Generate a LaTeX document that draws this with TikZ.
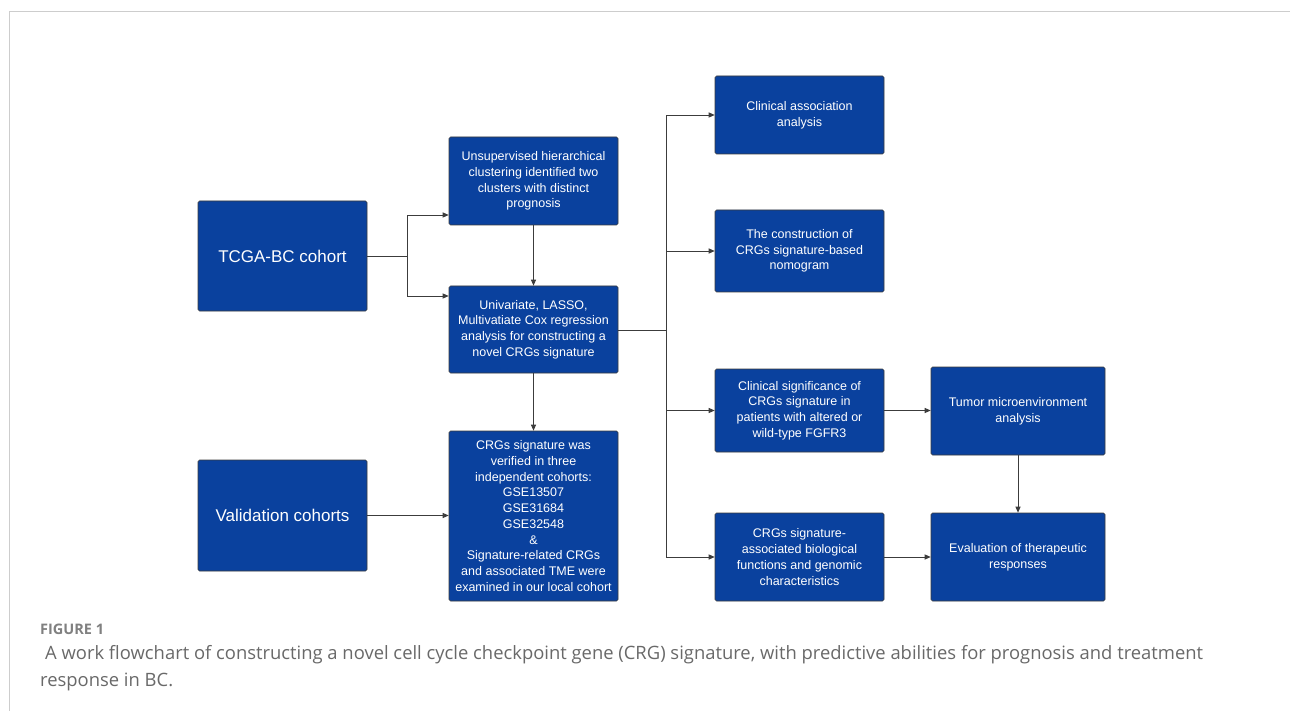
\documentclass[tikz,border=0pt]{standalone}
\usepackage{fontspec}
\setmainfont{Liberation Sans}
\newfontfamily\capfont{Open Sans}
\usetikzlibrary{arrows.meta,calc}
\definecolor{boxblue}{RGB}{10,65,158}
\definecolor{edgegray}{RGB}{60,60,60}
\definecolor{framegray}{RGB}{205,205,205}
\definecolor{capgray}{RGB}{105,105,105}
\begin{document}
\begin{tikzpicture}[x=1pt,y=-1pt,
  box/.style={draw=edgegray, line width=0.6pt, fill=boxblue, rounded corners=1.5pt,
    text=white, align=center, inner sep=0pt, minimum width=169pt,
    font=\fontsize{12.5}{15.7}\selectfont},
  bigbox/.style={box, font=\fontsize{17}{20}\selectfont},
  conn/.style={draw=edgegray, line width=0.9pt},
  arr/.style={conn, -{Triangle[length=6pt,width=5pt]}}]
\useasboundingbox (0,0) rectangle (1290,711);
\fill[white] (0,0) rectangle (1290,711);
\draw[framegray, line width=1.5pt] (9.5,711) -- (9.5,11.5) -- (1290,11.5);

% nodes
\node[bigbox, minimum height=110pt] (tcga) at (282.5,256) {TCGA-BC cohort};
\node[bigbox, minimum height=111pt] (val) at (282.5,515.5) {Validation cohorts};
\node[box, minimum height=88pt] (uns) at (533.5,181) {Unsupervised hierarchical\\clustering identified two\\clusters with distinct\\prognosis};
\node[box, minimum height=87pt] (uni) at (533.5,329.5) {Univariate, LASSO,\\Multivatiate Cox regression\\analysis for constructing a\\novel CRGs signature};
\node[box, minimum height=170pt] (ver) at (533.5,516) {CRGs signature was\\verified in three\\independent cohorts:\\GSE13507\\GSE31684\\GSE32548\\\&\\Signature-related CRGs\\and associated TME were\\examined in our local cohort};
\node[box, minimum height=78pt] (ca) at (799.5,115) {Clinical association\\analysis};
\node[box, minimum height=82pt] (con) at (799.5,251) {The construction of\\CRGs signature-based\\nomogram};
\node[box, minimum height=83pt] (cs) at (799.5,410.5) {Clinical significance of\\CRGs signature in\\patients with altered or\\wild-type FGFR3};
\node[box, minimum height=88pt] (bio) at (799.5,557) {CRGs signature-\\associated biological\\functions and genomic\\characteristics};
\node[box, minimum width=174pt, minimum height=88pt] (tme) at (1018,411) {Tumor microenvironment\\analysis};
\node[box, minimum width=174pt, minimum height=88pt] (eva) at (1018,557) {Evaluation of therapeutic\\responses};

% junctions
\coordinate (j1) at (407,256);
\coordinate (j1a) at (407,215);
\coordinate (j1b) at (407,296);
\coordinate (j2) at (666,330);

% connectors
\draw[conn] (tcga.east |- j1) -- (j1);
\draw[arr] (j1) -- (j1a) -- (uns.west |- j1a);
\draw[arr] (j1) -- (j1b) -- (uni.west |- j1b);
\draw[arr] (uns) -- (uni);
\draw[arr] (uni) -- (ver);
\draw[arr] (val.east) -- (ver.west |- val.east);
\draw[conn] (uni.east |- j2) -- (j2);
\draw[arr] (j2) |- (ca.west);
\draw[arr] (j2) |- (con.west);
\draw[arr] (j2) |- (cs.west);
\draw[arr] (j2) |- (bio.west);
\draw[arr] (cs.east) -- (cs.east -| tme.west);
\draw[arr] (bio.east) -- (eva.west);
\draw[arr] (tme) -- (eva);

% caption
\node[anchor=base west, inner sep=0pt, text=capgray!85,
  font=\capfont\bfseries\fontsize{14.5}{17}\selectfont] (fig) at (40,634) {FIGURE 1};
\node[anchor=base west, inner sep=0pt, text=capgray,
  font=\capfont\fontsize{18.4}{27}\selectfont] (cap1) at (45,659) {A work flowchart of constructing a novel cell cycle checkpoint gene (CRG) signature, with predictive abilities for prognosis and treatment};
\node[anchor=base west, inner sep=0pt, text=capgray,
  font=\capfont\fontsize{18.4}{27}\selectfont] (cap2) at (40,686) {response in BC.};
\end{tikzpicture}
\end{document}
